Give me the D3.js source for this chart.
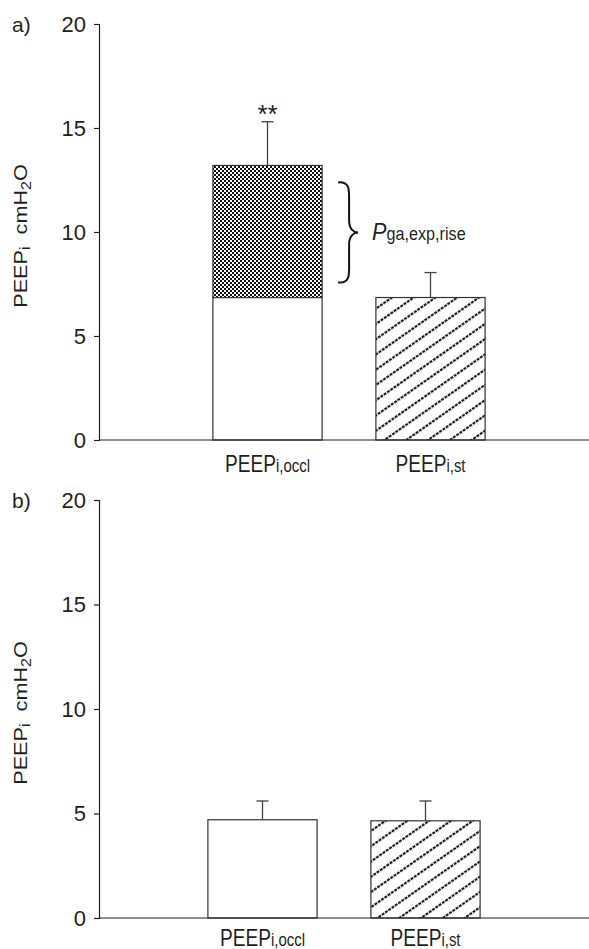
<!DOCTYPE html>
<html lang="en">
<head>
  <meta charset="UTF-8">
  <title>PEEPi bars</title>
  <script src="https://d3js.org/d3.v7.min.js"></script>
  <style>
    body { margin: 0; background: #fff; }
    svg { display: block; }
    text { fill: #231f20; font-family: 'Liberation Sans', Arial, sans-serif; }
  </style>
</head>
<body>
  <svg width="589" height="949"></svg>
  <script>
    // data (cmH2O)
    const categories = ["occl", "st"];
    const labelMain = ["PEEP", "PEEP"];
    const labelSub = ["i,occl", "i,st"];
    const yTicks = [0, 5, 10, 15, 20];

    // panel a: static part + gastric rise stacked on the occlusion bar
    const aBase = [6.85, 6.85];
    const aTotal = [13.2, 6.85];
    const aErrTop = [15.3, 8.05];
    // panel b
    const bBase = [4.7, 4.65];
    const bTotal = [4.7, 4.65];
    const bErrTop = [5.6, 5.6];

    const ink = "#231f20";
    const svg = d3.select("svg");
    const defs = svg.append("defs");

    // fine checker for the rise
    const chk = defs.append("pattern").attr("id", "checker")
      .attr("patternUnits", "userSpaceOnUse").attr("width", 4).attr("height", 4);
    chk.append("rect").attr("width", 4).attr("height", 4).attr("fill", "#fff");
    chk.append("rect").attr("width", 2).attr("height", 2).attr("fill", "#111");
    chk.append("rect").attr("x", 2).attr("y", 2).attr("width", 2).attr("height", 2).attr("fill", "#111");

    // rising hatch
    const hatch = defs.append("pattern").attr("id", "hatch")
      .attr("patternUnits", "userSpaceOnUse").attr("width", 24).attr("height", 12.5)
      .attr("patternTransform", "rotate(-35)");
    hatch.append("rect").attr("width", 24).attr("height", 12.5).attr("fill", "#fff");
    hatch.append("line").attr("x1", 0).attr("x2", 24).attr("y1", 6).attr("y2", 6)
      .attr("stroke", "#000").attr("stroke-width", 1.8).attr("stroke-dasharray", "3 1");

    const baseFill = ["#fff", "url(#hatch)"];

    function drawPanel(p) {
      const g = svg.append("g");
      const y = d3.scaleLinear().domain([0, 20]).range([p.y0, p.y20]);
      const x = d3.scaleBand().domain(categories).range(p.xRange)
        .paddingInner(0.33).paddingOuter(0.165);

      g.append("text").attr("x", 12).attr("y", p.y20 + 8)
        .attr("font-size", 21).text(p.tag);

      g.append("g").attr("transform", `translate(${p.axisX},0)`)
        .call(d3.axisLeft(y).tickValues(yTicks).tickSize(5).tickPadding(8))
        .call(a => a.select(".domain").attr("stroke", ink).attr("stroke-width", 1.2))
        .call(a => a.selectAll(".tick line").attr("stroke", ink).attr("stroke-width", 1.2))
        .call(a => a.selectAll(".tick text").attr("fill", ink).attr("font-size", 22)
          .attr("font-family", "'Liberation Sans', Arial, sans-serif"));

      // y title
      const yt = g.append("text")
        .attr("transform", `translate(27,${(p.y0 + p.y20) / 2 + 4}) rotate(-90) scale(1.14,1)`)
        .attr("text-anchor", "middle").attr("font-size", 19);
      yt.append("tspan").text("PEEP");
      yt.append("tspan").attr("font-size", 14).attr("dy", 3).text("i");
      yt.append("tspan").attr("dy", -3).text("\u00a0\u00a0cmH");
      yt.append("tspan").attr("font-size", 14).attr("dy", 4).text("2");
      yt.append("tspan").attr("dy", -4).text("O");

      // bars
      const bars = g.append("g");
      categories.forEach((c, i) => {
        bars.append("rect")
          .attr("x", x(c)).attr("width", x.bandwidth())
          .attr("y", y(p.base[i])).attr("height", y(0) - y(p.base[i]))
          .attr("fill", baseFill[i]).attr("stroke", "#333").attr("stroke-width", 1.2);
        if (p.total[i] > p.base[i]) {
          bars.append("rect")
            .attr("x", x(c)).attr("width", x.bandwidth())
            .attr("y", y(p.total[i])).attr("height", y(p.base[i]) - y(p.total[i]))
            .attr("fill", "url(#checker)").attr("stroke", "#333").attr("stroke-width", 1.2);
        }
        const cx = x(c) + x.bandwidth() / 2;
        bars.append("line").attr("x1", cx).attr("x2", cx)
          .attr("y1", y(p.total[i])).attr("y2", y(p.errTop[i]))
          .attr("stroke", "#444").attr("stroke-width", 1.3);
        bars.append("line").attr("x1", cx - 6).attr("x2", cx + 6)
          .attr("y1", y(p.errTop[i])).attr("y2", y(p.errTop[i]))
          .attr("stroke", "#444").attr("stroke-width", 1.3);

        const lab = g.append("text")
          .attr("transform", `translate(${cx},${y(0) + p.labelDy}) scale(0.83,1)`)
          .attr("text-anchor", "middle").attr("font-size", 23);
        lab.append("tspan").text(labelMain[i]);
        lab.append("tspan").attr("font-size", 18).text(labelSub[i]);
      });

      // x axis line
      g.append("line").attr("x1", p.axisX).attr("x2", 589)
        .attr("y1", y(0)).attr("y2", y(0))
        .attr("stroke", ink).attr("stroke-width", 1.2);

      if (p.rise) {
        const cx = x(categories[0]) + x.bandwidth() / 2;
        g.append("text").attr("x", cx).attr("y", y(p.errTop[0]) + 1)
          .attr("text-anchor", "middle").attr("font-size", 26)
          .attr("font-family", "'Liberation Serif', 'Times New Roman', serif")
          .attr("fill", "#666").text("**");

        // curly brace over the rise segment
        const bx = x(categories[0]) + x.bandwidth() + 16;
        const top = y(p.total[0]) + 17, bot = y(p.base[0]) - 15, mid = (top + bot) / 2;
        const w = 20;
        const path = `M${bx},${top} C${bx + w * 0.6},${top - 1} ${bx + w * 0.55},${top + 8} ${bx + w * 0.55},${top + 18}
          L${bx + w * 0.55},${mid - 12} C${bx + w * 0.55},${mid - 3} ${bx + w * 0.8},${mid} ${bx + w},${mid}
          C${bx + w * 0.8},${mid} ${bx + w * 0.55},${mid + 3} ${bx + w * 0.55},${mid + 12}
          L${bx + w * 0.55},${bot - 18} C${bx + w * 0.55},${bot - 8} ${bx + w * 0.6},${bot + 1} ${bx},${bot}`;
        g.append("path").attr("d", path).attr("fill", "none")
          .attr("stroke", "#111").attr("stroke-width", 2);

        const rl = g.append("text")
          .attr("transform", `translate(${bx + w + 14},${mid + 8}) scale(0.9,1)`)
          .attr("font-size", 24);
        rl.append("tspan").attr("font-style", "italic").text("P");
        rl.append("tspan").attr("font-size", 18).text("ga,exp,rise");
      }
    }

    drawPanel({ tag: "a)", y0: 440, y20: 24, axisX: 99, xRange: [186, 512], labelDy: 32,
      base: aBase, total: aTotal, errTop: aErrTop, rise: true });
    drawPanel({ tag: "b)", y0: 918, y20: 500, axisX: 99, xRange: [181, 507], labelDy: 28,
      base: bBase, total: bTotal, errTop: bErrTop, rise: false });
  </script>
</body>
</html>
